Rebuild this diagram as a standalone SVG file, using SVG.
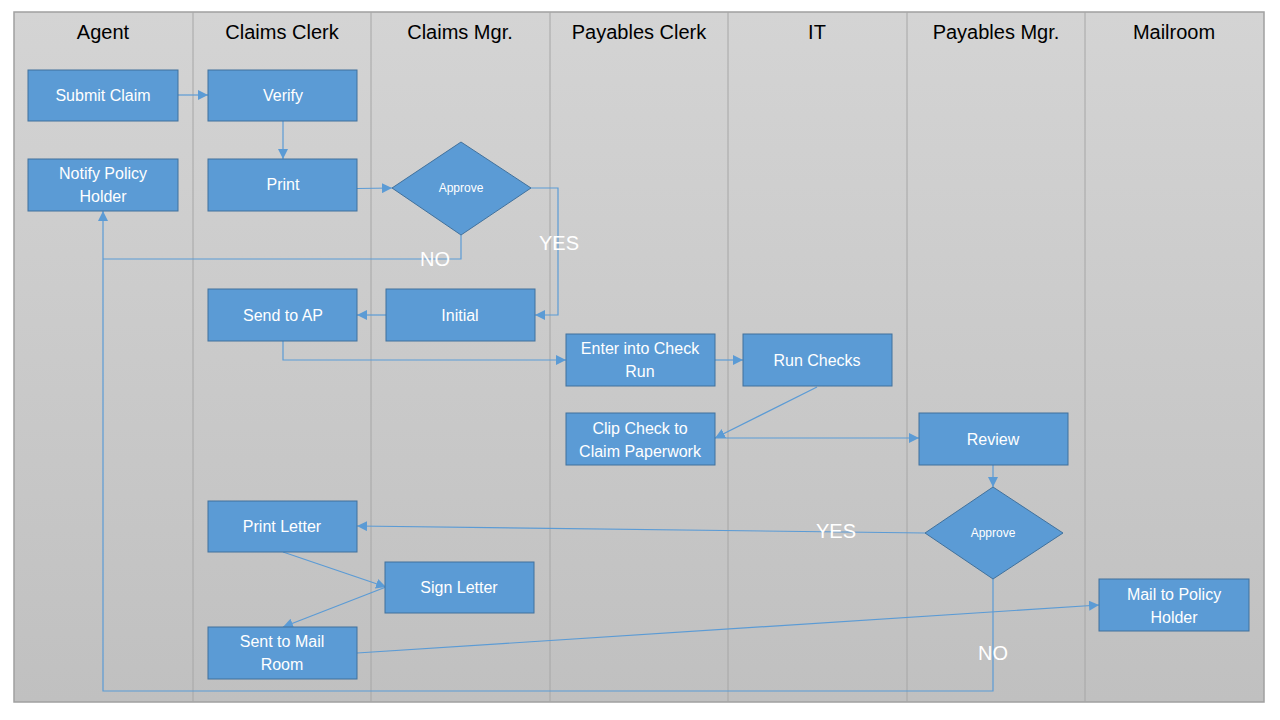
<svg xmlns="http://www.w3.org/2000/svg" width="1280" height="720" viewBox="0 0 1280 720">
<defs>
<linearGradient id="bg" x1="0" y1="0" x2="0" y2="1">
<stop offset="0" stop-color="#d4d4d4"/>
<stop offset="1" stop-color="#c0c0c0"/>
</linearGradient>
<marker id="arr" viewBox="0 0 10 10" refX="10" refY="5" markerWidth="10" markerHeight="10" markerUnits="userSpaceOnUse" orient="auto">
<path d="M0,0 L10,5 L0,10 z" fill="#5b9bd5"/>
</marker>
<style>
.lane{stroke:#a6a6a6;stroke-width:1}
.hdr{font-family:"Liberation Sans",Arial,sans-serif;font-size:20px;fill:#000;text-anchor:middle}
.box{fill:#5b9bd5;stroke:#41719c;stroke-width:1}
.t{font-family:"Liberation Sans",Arial,sans-serif;font-size:16px;fill:#fff;text-anchor:middle}
.ts{font-family:"Liberation Sans",Arial,sans-serif;font-size:12px;fill:#fff;text-anchor:middle}
.lbl{font-family:"Liberation Sans",Arial,sans-serif;font-size:20px;fill:#fff;text-anchor:middle}
.c{fill:none;stroke:#5b9bd5;stroke-width:1.2}
.ca{fill:none;stroke:#5b9bd5;stroke-width:1.2;marker-end:url(#arr)}
</style>
</defs>
<rect width="1280" height="720" fill="#fff"/>
<g id="lanes">
<rect x="14" y="12" width="1250" height="690" fill="url(#bg)" stroke="#a0a0a0" stroke-width="1.5"/>
<line class="lane" x1="193" y1="12" x2="193" y2="702"/>
<line class="lane" x1="371" y1="12" x2="371" y2="702"/>
<line class="lane" x1="550" y1="12" x2="550" y2="702"/>
<line class="lane" x1="728" y1="12" x2="728" y2="702"/>
<line class="lane" x1="907" y1="12" x2="907" y2="702"/>
<line class="lane" x1="1085" y1="12" x2="1085" y2="702"/>
<text class="hdr" x="103" y="39">Agent</text>
<text class="hdr" x="282" y="39">Claims Clerk</text>
<text class="hdr" x="460" y="39">Claims Mgr.</text>
<text class="hdr" x="639" y="39">Payables Clerk</text>
<text class="hdr" x="817" y="39">IT</text>
<text class="hdr" x="996" y="39">Payables Mgr.</text>
<text class="hdr" x="1174" y="39">Mailroom</text>
</g>
<g id="connectors">
<line class="ca" x1="178" y1="95" x2="208" y2="95"/>
<line class="ca" x1="283" y1="121" x2="283" y2="159"/>
<line class="ca" x1="357" y1="188.5" x2="392" y2="188"/>
<polyline class="ca" points="531,188 558,188 558,315 535,315"/>
<polyline class="c" points="461,235 461,259 103,259"/>
<polyline class="ca" points="993,579 993,691 103,691 103,211"/>
<line class="ca" x1="386" y1="315" x2="357" y2="315"/>
<polyline class="ca" points="283,341 283,360 566,360"/>
<line class="ca" x1="715" y1="360" x2="743" y2="360"/>
<line class="ca" x1="817" y1="387" x2="715" y2="438"/>
<line class="ca" x1="715" y1="438" x2="919" y2="438"/>
<line class="ca" x1="993" y1="465" x2="993" y2="487"/>
<line class="ca" x1="925" y1="533" x2="357" y2="526"/>
<line class="ca" x1="283" y1="552" x2="386" y2="587"/>
<line class="ca" x1="386" y1="587" x2="283" y2="627"/>
<line class="ca" x1="357" y1="653" x2="1099" y2="605"/>
<text class="lbl" x="559" y="250">YES</text>
<text class="lbl" x="435" y="266">NO</text>
<text class="lbl" x="836" y="538">YES</text>
<text class="lbl" x="993" y="660">NO</text>
</g>
<g id="submit-claim"><rect class="box" x="28" y="70" width="150" height="51"/><text class="t" x="103" y="101">Submit Claim</text></g>
<g id="verify"><rect class="box" x="208" y="70" width="149" height="51"/><text class="t" x="283" y="101">Verify</text></g>
<g id="notify"><rect class="box" x="28" y="159" width="150" height="52"/><text class="t" x="103" y="179">Notify Policy</text><text class="t" x="103" y="202">Holder</text></g>
<g id="print"><rect class="box" x="208" y="159" width="149" height="52"/><text class="t" x="283" y="190">Print</text></g>
<g id="approve1"><polygon class="box" points="461,142 531,188 461,235 392,188"/><text class="ts" x="461" y="192">Approve</text></g>
<g id="initial"><rect class="box" x="386" y="289" width="149" height="52"/><text class="t" x="460" y="321">Initial</text></g>
<g id="send-ap"><rect class="box" x="208" y="289" width="149" height="52"/><text class="t" x="283" y="321">Send to AP</text></g>
<g id="enter-check"><rect class="box" x="566" y="334" width="149" height="52"/><text class="t" x="640" y="354">Enter into Check</text><text class="t" x="640" y="377">Run</text></g>
<g id="run-checks"><rect class="box" x="743" y="334" width="149" height="52"/><text class="t" x="817" y="366">Run Checks</text></g>
<g id="clip-check"><rect class="box" x="566" y="413" width="149" height="52"/><text class="t" x="640" y="434">Clip Check to</text><text class="t" x="640" y="457">Claim Paperwork</text></g>
<g id="review"><rect class="box" x="919" y="413" width="149" height="52"/><text class="t" x="993" y="445">Review</text></g>
<g id="approve2"><polygon class="box" points="993,487 1063,533 993,579 925,533"/><text class="ts" x="993" y="537">Approve</text></g>
<g id="print-letter"><rect class="box" x="208" y="501" width="149" height="51"/><text class="t" x="282" y="532">Print Letter</text></g>
<g id="sign-letter"><rect class="box" x="385" y="562" width="149" height="51"/><text class="t" x="459" y="593">Sign Letter</text></g>
<g id="sent-mail"><rect class="box" x="208" y="627" width="149" height="52"/><text class="t" x="282" y="647">Sent to Mail</text><text class="t" x="282" y="670">Room</text></g>
<g id="mail-policy"><rect class="box" x="1099" y="579" width="150" height="52"/><text class="t" x="1174" y="600">Mail to Policy</text><text class="t" x="1174" y="623">Holder</text></g>
</svg>
